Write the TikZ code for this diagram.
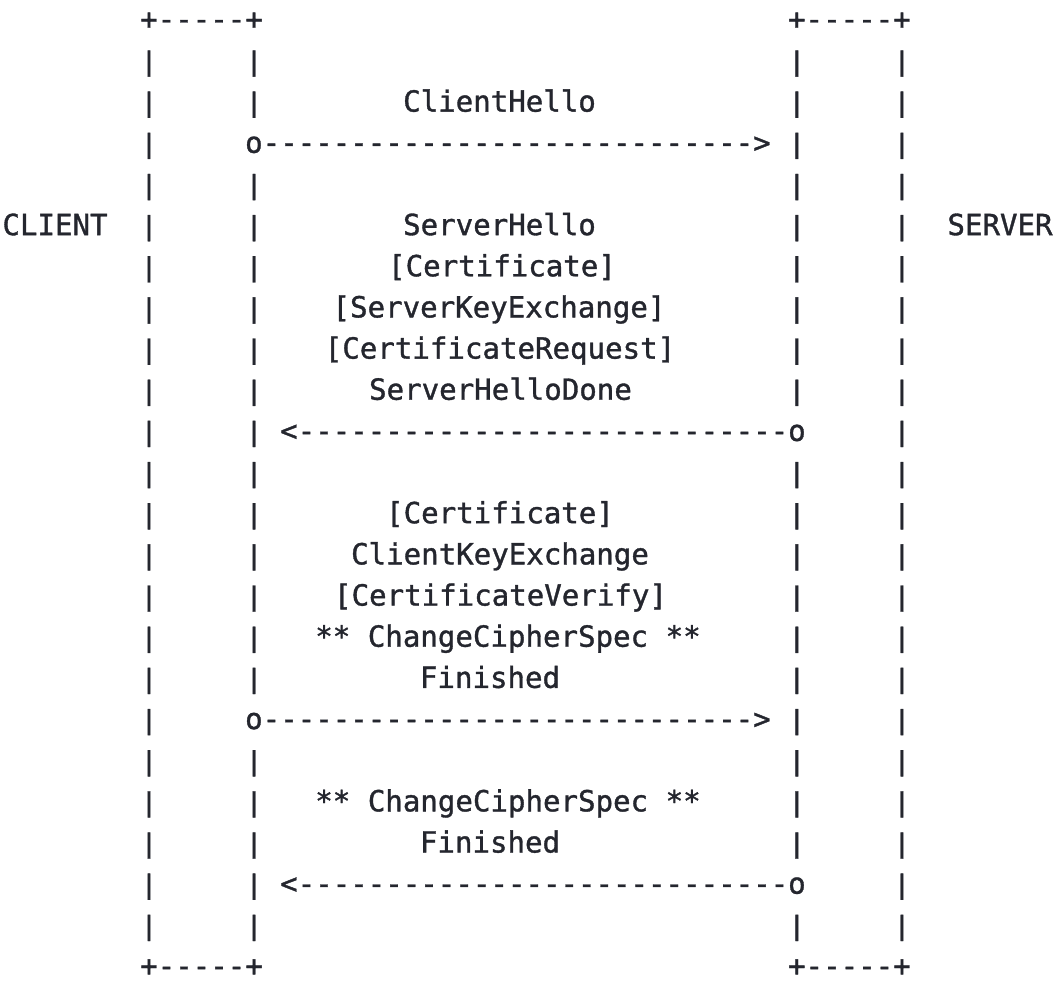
\documentclass[tikz,border=0pt]{standalone}
\usepackage{fontspec}
\setmonofont[FakeBold=1.2]{DejaVu Sans Mono}
\definecolor{ink}{RGB}{36,38,46}
\newcommand{\dashrun}{----------------------------}
\begin{document}
\begin{tikzpicture}[x=1pt,y=-1pt,
  asc/.style={inner sep=0pt, outer sep=0pt, anchor=base, text=ink,
              font=\ttfamily\fontsize{29.1}{29.1}\selectfont},
  lbl/.style={asc},
  barglyph/.style={asc, yscale=0.92}
]
\useasboundingbox (0,0) rectangle (1060,993);
% grid: column c -> x = 149 + 17.51 c ; row r -> baseline y = 29.3 + 41.16 r
% top and bottom box edges
\node[asc] (tl) at ({149+17.51*3},{29.3+41.16*0}) {+-----+};
\node[asc] (tr) at ({149+17.51*40},{29.3+41.16*0}) {+-----+};
\node[asc] (bl) at ({149+17.51*3},{29.3+41.16*23}) {+-----+};
\node[asc] (br) at ({149+17.51*40},{29.3+41.16*23}) {+-----+};
% outer bars
\foreach \r in {1,...,22}{
  \node[asc] (L\r) at ({149},{29.3+41.16*\r}) {\scalebox{1}[0.9]{|}};
  \node[asc] (R\r) at ({149+17.51*43},{29.3+41.16*\r}) {\scalebox{1}[0.9]{|}};
}
% inner client bar
\foreach \r in {1,2,4,5,6,7,8,9,10,11,12,13,14,15,16,18,19,20,21,22}{
  \node[asc] (Li\r) at ({149+17.51*6},{29.3+41.16*\r}) {\scalebox{1}[0.9]{|}};
}
% inner server bar
\foreach \r in {1,2,3,4,5,6,7,8,9,11,12,13,14,15,16,17,18,19,20,22}{
  \node[asc] (Ri\r) at ({149+17.51*37},{29.3+41.16*\r}) {\scalebox{1}[0.9]{|}};
}
% arrows (ASCII)
\node[asc] (m1) at ({149+17.51*20.5},{29.3+41.16*3}) {o\dashrun>};
\node[asc] (m2) at ({149+17.51*22.5},{29.3+41.16*10}) {<\dashrun o};
\node[asc] (m3) at ({149+17.51*20.5},{29.3+41.16*17}) {o\dashrun>};
\node[asc] (m4) at ({149+17.51*22.5},{29.3+41.16*21}) {<\dashrun o};
% side labels
\node[lbl] (client) at (55,{29.3+41.16*5}) {CLIENT};
\node[lbl] (server) at (1000,{29.3+41.16*5}) {SERVER};
% message labels
\node[lbl] (t2)  at (499.5,{29.3+41.16*2})  {ClientHello};
\node[lbl] (t5)  at (499.5,{29.3+41.16*5})  {ServerHello};
\node[lbl] (t6)  at (502,{29.3+41.16*6})    {[Certificate]};
\node[lbl] (t7)  at (499,{29.3+41.16*7})    {[ServerKeyExchange]};
\node[lbl] (t8)  at (500,{29.3+41.16*8})    {[CertificateRequest]};
\node[lbl] (t9)  at (500.5,{29.3+41.16*9})  {ServerHelloDone};
\node[lbl] (t12) at (500,{29.3+41.16*12})   {[Certificate]};
\node[lbl] (t13) at (500,{29.3+41.16*13})   {ClientKeyExchange};
\node[lbl] (t14) at (500.5,{29.3+41.16*14}) {[CertificateVerify]};
\node[lbl] (t15) at (508,{29.3+41.16*15})   {** ChangeCipherSpec **};
\node[lbl] (t16) at (490,{29.3+41.16*16})   {Finished};
\node[lbl] (t19) at (508,{29.3+41.16*19})   {** ChangeCipherSpec **};
\node[lbl] (t20) at (490,{29.3+41.16*20})   {Finished};
\end{tikzpicture}
\end{document}
